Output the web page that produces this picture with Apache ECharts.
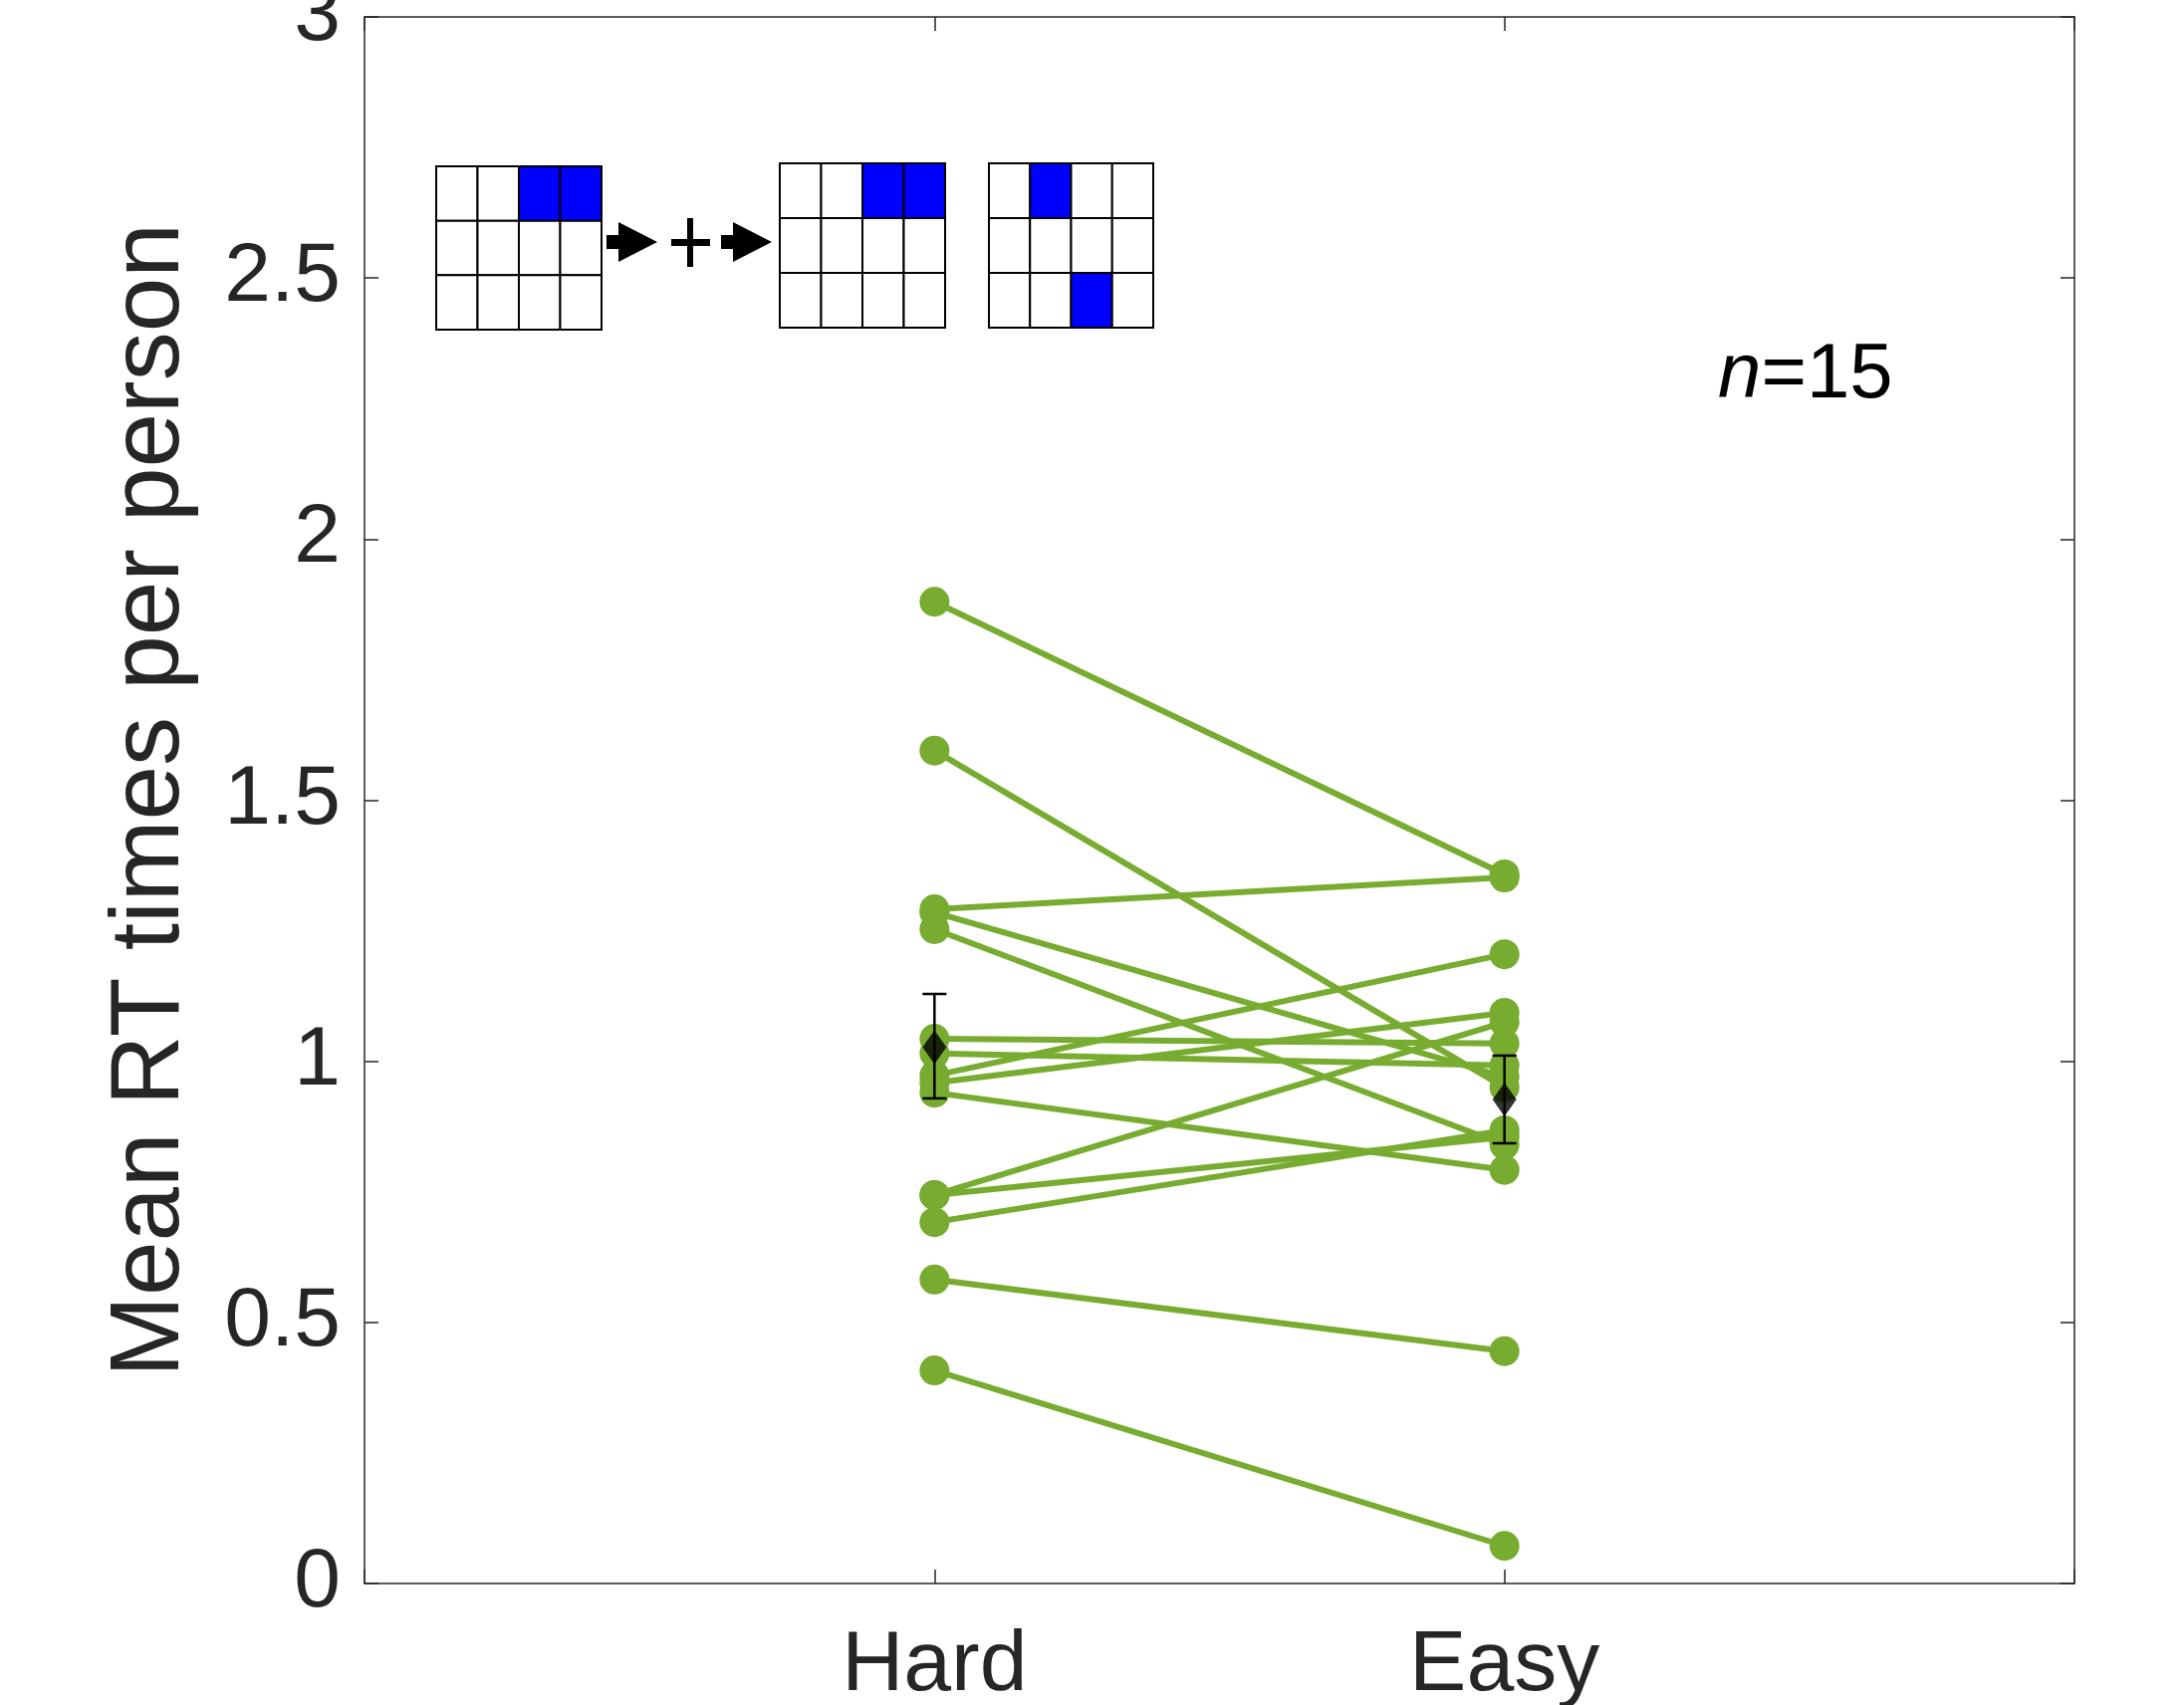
<!DOCTYPE html>
<html>
<head>
<meta charset="utf-8">
<script src="https://cdn.jsdelivr.net/npm/echarts@6/dist/echarts.min.js"></script>
<style>
  html, body { margin: 0; padding: 0; background: #fff; }
  #chart_rt { width: 2193px; height: 1712px; }
</style>
</head>
<body>
<div id="chart_rt"></div>
<script>
// conditions on the x axis (value 1 = Hard, 2 = Easy)
const xTickLabels = ['', 'Hard', 'Easy', '']
const yTicks = [0, 0.5, 1, 1.5, 2, 2.5, 3]

// mean RT per person, one entry per participant (n=15)
const hardRT = [1.88, 1.595, 1.291, 1.285, 1.253, 1.043, 1.015, 0.973, 0.959, 0.94, 0.744, 0.744, 0.692, 0.582, 0.408]
const easyRT = [1.358, 0.95, 1.352, 0.97, 0.84, 1.034, 0.992, 1.205, 1.093, 0.792, 1.075, 0.855, 0.868, 0.445, 0.072]

// group mean and error bar ends
const groupMean = [1.027, 0.927]
const errLow = [0.929, 0.843]
const errHigh = [1.129, 1.011]

const green = '#77AC30'
const axisColor = '#262626'
const fontFamily = '"Liberation Sans", Arial, Helvetica, sans-serif'

let chart_rt = echarts.init(document.getElementById('chart_rt'))

// one line per participant
let personSeries = hardRT.map((h, i) => ({
  type: 'line',
  data: [[1, h], [2, easyRT[i]]],
  symbol: 'circle',
  symbolSize: 30,
  itemStyle: { color: green },
  lineStyle: { color: green, width: 6 },
  z: 2
}))

// little task pictogram in the upper left
function buildInset() {
  let children = []
  let grids = [
    { x: 438, y: 167, w: 166, h: 164, blue: [[0, 2], [0, 3]] },
    { x: 783, y: 164, w: 166, h: 165, blue: [[0, 2], [0, 3]] },
    { x: 993, y: 164, w: 165, h: 165, blue: [[0, 1], [2, 2]] }
  ]
  grids.forEach(g => {
    let cw = g.w / 4, ch = g.h / 3
    for (let r = 0; r < 3; r++) {
      for (let c = 0; c < 4; c++) {
        let isBlue = g.blue.some(b => b[0] === r && b[1] === c)
        children.push({
          type: 'rect',
          shape: { x: g.x + c * cw, y: g.y + r * ch, width: cw, height: ch },
          style: { fill: isBlue ? '#0000ff' : '#fff', stroke: '#000', lineWidth: 2 }
        })
      }
    }
  })
  // arrows
  ;[609, 724].forEach(x0 => {
    children.push({
      type: 'polygon',
      shape: { points: [[x0, 236], [x0 + 12, 236], [x0 + 12, 223], [x0 + 51, 243], [x0 + 12, 263], [x0 + 12, 250], [x0, 250]] },
      style: { fill: '#000' }
    })
  })
  // plus sign
  children.push({ type: 'rect', shape: { x: 674, y: 240, width: 39, height: 7 }, style: { fill: '#000' } })
  children.push({ type: 'rect', shape: { x: 690, y: 219, width: 6, height: 49 }, style: { fill: '#000' } })
  return children
}

let tickStyle = { show: true, inside: true, length: 14, lineStyle: { color: axisColor, width: 1.5 } }
let lineStyle = { show: true, onZero: false, lineStyle: { color: axisColor, width: 1.5 } }

let option = {
  animation: false,
  backgroundColor: '#fff',
  grid: { left: 366, right: 110, top: 17, bottom: 122, containLabel: false, outerBoundsMode: 'none' },
  xAxis: [
    {
      type: 'value',
      min: 0, max: 3, interval: 1,
      axisLine: lineStyle,
      axisTick: tickStyle,
      splitLine: { show: false },
      axisLabel: {
        margin: 40,
        fontSize: 86,
        color: axisColor,
        fontFamily: fontFamily,
        formatter: v => xTickLabels[v] || ''
      }
    },
    {
      type: 'value',
      position: 'top',
      min: 0, max: 3, interval: 1,
      axisLine: lineStyle,
      axisTick: tickStyle,
      splitLine: { show: false },
      axisLabel: { show: false }
    }
  ],
  yAxis: [
    {
      type: 'value',
      min: yTicks[0], max: yTicks[yTicks.length - 1], interval: 0.5,
      name: 'Mean RT times per person',
      nameLocation: 'middle',
      nameGap: 165,
      nameTextStyle: { fontSize: 98, color: axisColor, fontFamily: fontFamily },
      axisLine: lineStyle,
      axisTick: tickStyle,
      splitLine: { show: false },
      axisLabel: { margin: 24, fontSize: 84, color: axisColor, fontFamily: fontFamily }
    },
    {
      type: 'value',
      position: 'right',
      min: 0, max: 3, interval: 0.5,
      axisLine: lineStyle,
      axisTick: tickStyle,
      splitLine: { show: false },
      axisLabel: { show: false }
    }
  ],
  series: [
    ...personSeries,
    {
      // error bars around the group means
      type: 'custom',
      data: groupMean.map((m, i) => [i + 1, errLow[i], errHigh[i]]),
      encode: { x: 0, y: [1, 2] },
      z: 5,
      renderItem: (params, api) => {
        let lo = api.coord([api.value(0), api.value(1)])
        let hi = api.coord([api.value(0), api.value(2)])
        let cap = 12
        let st = { stroke: '#000', lineWidth: 2.5 }
        return {
          type: 'group',
          children: [
            { type: 'line', shape: { x1: lo[0], y1: lo[1], x2: hi[0], y2: hi[1] }, style: st },
            { type: 'line', shape: { x1: lo[0] - cap, y1: lo[1], x2: lo[0] + cap, y2: lo[1] }, style: st },
            { type: 'line', shape: { x1: hi[0] - cap, y1: hi[1], x2: hi[0] + cap, y2: hi[1] }, style: st }
          ]
        }
      }
    },
    {
      type: 'scatter',
      data: groupMean.map((m, i) => [i + 1, m]),
      symbol: 'diamond',
      symbolSize: [24, 34],
      itemStyle: { color: '#000' },
      z: 6
    }
  ],
  graphic: [
    ...buildInset(),
    {
      type: 'text',
      x: 1725, y: 377,
      style: {
        text: '{n|n}=15',
        fontSize: 78,
        fontFamily: fontFamily,
        fill: '#000',
        verticalAlign: 'middle',
        rich: { n: { fontStyle: 'italic', fontSize: 78, fontFamily: fontFamily, fill: '#000' } }
      }
    }
  ]
}

chart_rt.setOption(option)
</script>
</body>
</html>
